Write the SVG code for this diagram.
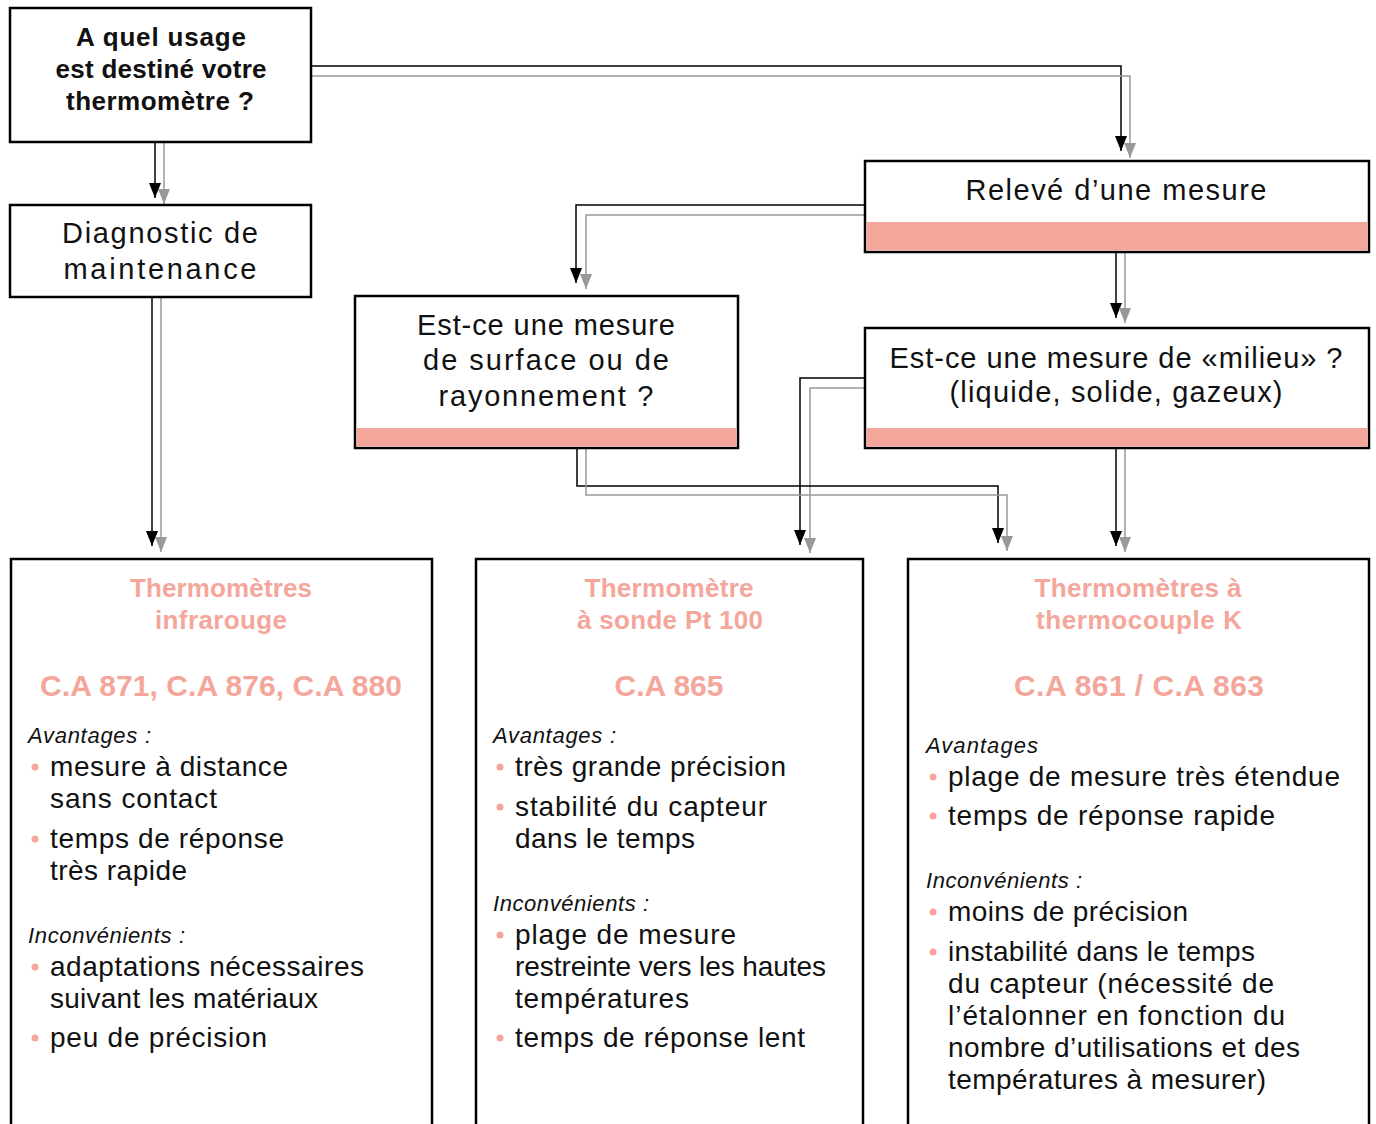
<svg xmlns="http://www.w3.org/2000/svg" width="1376" height="1124" viewBox="0 0 1376 1124">
<defs>
<marker id="ab" viewBox="0 0 15 12" refX="15" refY="6" markerWidth="15" markerHeight="12" markerUnits="userSpaceOnUse" orient="auto"><path d="M0,0 L15,6 L0,12 z" fill="#000"/></marker>
<marker id="ag" viewBox="0 0 15 12" refX="15" refY="6" markerWidth="15" markerHeight="12" markerUnits="userSpaceOnUse" orient="auto"><path d="M0,0 L15,6 L0,12 z" fill="#999"/></marker>
<style>
.box{fill:#fff;stroke:#000;stroke-width:2.5}
.band{fill:#f4a69b}
.cb{fill:none;stroke:#000;stroke-width:1.5;marker-end:url(#ab)}
.cg{fill:none;stroke:#999;stroke-width:1.5;marker-end:url(#ag)}
text{font-family:"Liberation Sans",Arial,sans-serif;fill:#111}
.q{font-size:26px;font-weight:bold;text-anchor:middle}
.t{font-size:29px;text-anchor:middle}
.h{font-size:26px;font-weight:bold;fill:#f4a69b;text-anchor:middle}
.m{font-size:30px;font-weight:bold;fill:#f4a69b;text-anchor:middle}
.i{font-size:22px;font-style:italic}
.b{font-size:28px}
.d{fill:#f4a69b}
</style>
</defs>
<g id="connectors">
<path class="cb" d="M155,142 V198"/><path class="cg" d="M164,142 V204"/>
<path class="cb" d="M311,66 H1121 V151"/><path class="cg" d="M311,76 H1130 V158"/>
<path class="cb" d="M865,205 H576 V283"/><path class="cg" d="M865,215 H586 V289"/>
<path class="cb" d="M1116,252 V318"/><path class="cg" d="M1125,252 V323"/>
<path class="cb" d="M865,378 H800 V545"/><path class="cg" d="M865,388 H810 V553"/>
<path class="cb" d="M577,448 V486 H998 V543"/><path class="cg" d="M586,448 V495 H1007 V551"/>
<path class="cb" d="M1116,448 V546"/><path class="cg" d="M1125,448 V552"/>
<path class="cb" d="M152,297 V546"/><path class="cg" d="M161,297 V552"/>
</g>
<g id="n-usage">
<rect class="box" x="10" y="8" width="301" height="134"/>
<text class="q" x="161" y="46" textLength="170">A quel usage</text>
<text class="q" x="161" y="78" textLength="211">est destiné votre</text>
<text class="q" x="160" y="110" textLength="188">thermomètre ?</text>
</g>
<g id="n-diagnostic">
<rect class="box" x="10" y="205" width="301" height="92"/>
<text class="t" x="160" y="243" textLength="196">Diagnostic de</text>
<text class="t" x="160" y="279" textLength="193">maintenance</text>
</g>
<g id="n-releve">
<rect class="box" x="865" y="161" width="504" height="91"/>
<rect class="band" x="866.5" y="222" width="501" height="28.5"/>
<text class="t" x="1116" y="200" textLength="301">Relevé d’une mesure</text>
</g>
<g id="n-surface">
<rect class="box" x="355" y="296" width="383" height="152"/>
<rect class="band" x="356.5" y="428" width="380" height="18.5"/>
<text class="t" x="546" y="335" textLength="258">Est-ce une mesure</text>
<text class="t" x="546" y="370" textLength="246">de surface ou de</text>
<text class="t" x="546" y="406" textLength="215">rayonnement ?</text>
</g>
<g id="n-milieu">
<rect class="box" x="865" y="328" width="504" height="120"/>
<rect class="band" x="866.5" y="428" width="501" height="18.5"/>
<text class="t" x="1116" y="368" textLength="453">Est-ce une mesure de «milieu» ?</text>
<text class="t" x="1116" y="402" textLength="333">(liquide, solide, gazeux)</text>
</g>
<g id="n-infrarouge">
<rect class="box" x="11" y="559" width="421" height="580"/>
<text class="h" x="221" y="597" textLength="182">Thermomètres</text>
<text class="h" x="221" y="629" textLength="132">infrarouge</text>
<text class="m" x="221" y="696" textLength="362">C.A 871, C.A 876, C.A 880</text>
<text class="i" x="28" y="743" textLength="123">Avantages :</text>
<circle class="d" cx="35" cy="767" r="3.5"/>
<text class="b" x="50" y="776" textLength="238">mesure à distance</text>
<text class="b" x="50" y="808" textLength="167">sans contact</text>
<circle class="d" cx="35" cy="839" r="3.5"/>
<text class="b" x="50" y="848" textLength="234">temps de réponse</text>
<text class="b" x="50" y="880" textLength="137">très rapide</text>
<text class="i" x="28" y="943" textLength="157">Inconvénients :</text>
<circle class="d" cx="35" cy="967" r="3.5"/>
<text class="b" x="50" y="976" textLength="314">adaptations nécessaires</text>
<text class="b" x="50" y="1008" textLength="268">suivant les matériaux</text>
<circle class="d" cx="35" cy="1038" r="3.5"/>
<text class="b" x="50" y="1047" textLength="217">peu de précision</text>
</g>
<g id="n-sonde">
<rect class="box" x="476" y="559" width="387" height="580"/>
<text class="h" x="669" y="597" textLength="169">Thermomètre</text>
<text class="h" x="670" y="629" textLength="186">à sonde Pt 100</text>
<text class="m" x="669" y="696" textLength="109">C.A 865</text>
<text class="i" x="493" y="743" textLength="123">Avantages :</text>
<circle class="d" cx="500" cy="767" r="3.5"/>
<text class="b" x="515" y="776" textLength="271">très grande précision</text>
<circle class="d" cx="500" cy="807" r="3.5"/>
<text class="b" x="515" y="816" textLength="252">stabilité du capteur</text>
<text class="b" x="515" y="848" textLength="180">dans le temps</text>
<text class="i" x="493" y="911" textLength="156">Inconvénients :</text>
<circle class="d" cx="500" cy="935" r="3.5"/>
<text class="b" x="515" y="944" textLength="221">plage de mesure</text>
<text class="b" x="515" y="976" textLength="311">restreinte vers les hautes</text>
<text class="b" x="515" y="1008" textLength="174">températures</text>
<circle class="d" cx="500" cy="1038" r="3.5"/>
<text class="b" x="515" y="1047" textLength="290">temps de réponse lent</text>
</g>
<g id="n-thermocouple">
<rect class="box" x="908" y="559" width="461" height="580"/>
<text class="h" x="1138" y="597" textLength="207">Thermomètres à</text>
<text class="h" x="1139" y="629" textLength="206">thermocouple K</text>
<text class="m" x="1139" y="696" textLength="250">C.A 861 / C.A 863</text>
<text class="i" x="926" y="753" textLength="112">Avantages</text>
<circle class="d" cx="933" cy="777" r="3.5"/>
<text class="b" x="948" y="786" textLength="392">plage de mesure très étendue</text>
<circle class="d" cx="933" cy="816" r="3.5"/>
<text class="b" x="948" y="825" textLength="327">temps de réponse rapide</text>
<text class="i" x="926" y="888" textLength="156">Inconvénients :</text>
<circle class="d" cx="933" cy="912" r="3.5"/>
<text class="b" x="948" y="921" textLength="240">moins de précision</text>
<circle class="d" cx="933" cy="952" r="3.5"/>
<text class="b" x="948" y="961" textLength="307">instabilité dans le temps</text>
<text class="b" x="948" y="993" textLength="326">du capteur (nécessité de</text>
<text class="b" x="948" y="1025" textLength="337">l’étalonner en fonction du</text>
<text class="b" x="948" y="1057" textLength="352">nombre d’utilisations et des</text>
<text class="b" x="948" y="1089" textLength="318">températures à mesurer)</text>
</g>
</svg>
